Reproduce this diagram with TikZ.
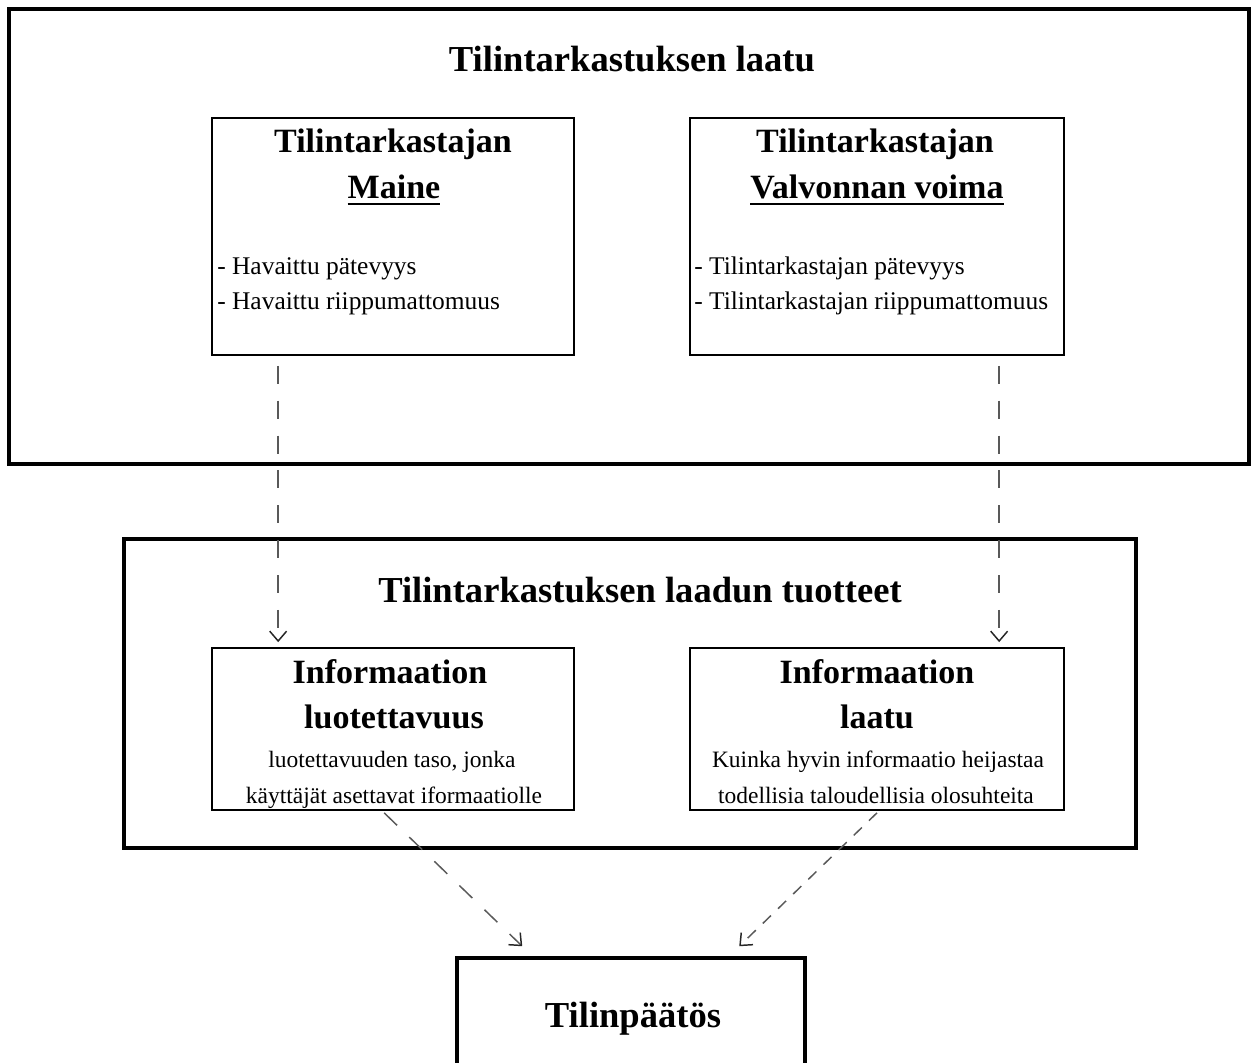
\documentclass[tikz,border=0pt]{standalone}
\usepackage{fontspec}
\setmainfont{Liberation Serif}
\usetikzlibrary{arrows.meta,fit}

\newcommand\thickul[1]{\sbox0{#1}\rlap{\rule[-0.19em]{\wd0}{0.08em}}\usebox0}

\tikzset{
  outerbox/.style={draw, line width=2.5pt, inner sep=0pt},
  innerbox/.style={draw, line width=1.2pt, inner sep=0pt},
  titletxt/.style={anchor=base, inner sep=0pt, font=\fontsize{26}{31}\selectfont\bfseries},
  headtxt/.style={anchor=base, inner sep=0pt, font=\fontsize{24.2}{29}\selectfont\bfseries},
  listtxt/.style={anchor=base west, inner sep=0pt, font=\fontsize{18.1}{22}\selectfont},
  notetxt/.style={anchor=base, inner sep=0pt, font=\fontsize{16.7}{20}\selectfont},
  flow/.style={draw=black!65, line width=1.05pt, dash pattern=on 12.8pt off 12pt,
    -{Straight Barb[length=7pt,width=12pt,color=black!85]}}
}

\begin{document}
\begin{tikzpicture}[x=0.025cm,y=-0.025cm,line join=miter]
  \useasboundingbox (0,0) rectangle (1251,1063);
  % boxes
  \node[outerbox, fit={(9,9) (1249,464)}] (quality) {};
  \node[innerbox, fit={(212,118) (574,355)}] (maine) {};
  \node[innerbox, fit={(690,118) (1064,355)}] (valv) {};
  \node[outerbox, fit={(124,539) (1136,848)}] (output) {};
  \node[innerbox, fit={(212,648) (574,810)}] (luot) {};
  \node[innerbox, fit={(690,648) (1064,810)}] (laatu) {};
  \node[outerbox, fit={(457,958) (805,1100)}] (tp) {};
  % texts
  \node[titletxt] (qualityT) at (632,72) {Tilintarkastuksen laatu};
  \node[headtxt] (maineA) at (393,153) {Tilintarkastajan};
  \node[headtxt] (maineB) at (394,199) {\thickul{Maine}};
  \node[listtxt] (maineC) at (217,275) {- Havaittu pätevyys};
  \node[listtxt] (maineD) at (217,310) {- Havaittu riippumattomuus};
  \node[headtxt] (valvA) at (875,153) {Tilintarkastajan};
  \node[headtxt] (valvB) at (877,199) {\thickul{Valvonnan voima}};
  \node[listtxt] (valvC) at (694,275) {- Tilintarkastajan pätevyys};
  \node[listtxt] (valvD) at (694,310) {- Tilintarkastajan riippumattomuus};
  \node[titletxt] (outputT) at (640,602) {Tilintarkastuksen laadun tuotteet};
  \node[headtxt] (luotA) at (390,683) {Informaation};
  \node[headtxt] (luotB) at (394,728) {luotettavuus};
  \node[notetxt] (luotC) at (392,767) {luotettavuuden taso, jonka};
  \node[notetxt] (luotD) at (394,803) {käyttäjät asettavat iformaatiolle};
  \node[headtxt] (laatuA) at (877,683) {Informaation};
  \node[headtxt] (laatuB) at (877,728) {laatu};
  \node[notetxt] (laatuC) at (878,767) {Kuinka hyvin informaatio heijastaa};
  \node[notetxt] (laatuD) at (876,803) {todellisia taloudellisia olosuhteita};
  \node[titletxt] (tpT) at (633,1027) {Tilinpäätös};
  % arrows
  \draw[flow] ([shift={(67,10)}]maine.south west) -- ([shift={(67,-5)}]luot.north west);
  \draw[flow] ([shift={(310,10)}]valv.south west) -- ([shift={(310,-5)}]laatu.north west);
  \draw[flow] ([shift={(173,2)}]luot.south west) -- ([shift={(67,-10)}]tp.north west);
  \draw[flow, dash pattern=on 8pt off 7pt] ([shift={(0,2)}]laatu.south) -- ([shift={(284,-10)}]tp.north west);
\end{tikzpicture}
\end{document}
